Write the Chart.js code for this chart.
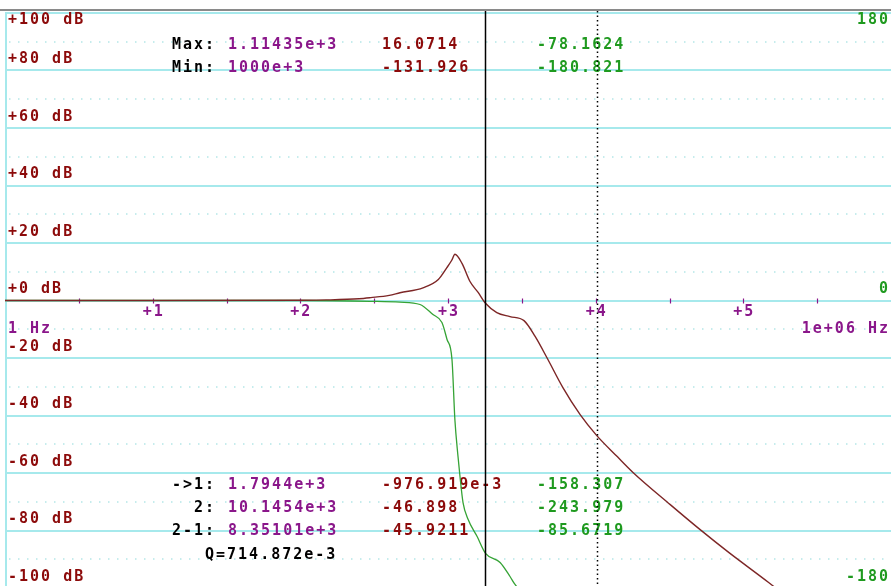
<!DOCTYPE html>
<html>
<head>
<meta charset="utf-8">
<script src="https://cdn.jsdelivr.net/npm/chart.js@4"></script>
<style>
  html, body { margin: 0; padding: 0; background: #fff; overflow: hidden; }
  #wrap { width: 891px; height: 600px; }
</style>
</head>
<body>
<div id="wrap"><canvas id="bode" width="891" height="600"></canvas></div>
<script>
// magnitude curve (Hz, dB)
const magFreq = [1, 10, 100, 150, 250, 300, 400, 473, 677, 860, 985, 1060, 1114, 1244, 1409, 1600, 1794.4, 2140, 2630, 3270, 3890, 4690, 6000, 7850, 10145.4, 14000, 17900, 32000, 51000, 80000, 147600, 1e6]
const magDb = [0, 0, 0.1, 0.2, 0.6, 1.0, 1.8, 2.7, 4.4, 7.3, 11.5, 14, 16.07, 12.9, 6.6, 2.8, -0.98, -4.2, -5.6, -7, -12.5, -20, -30.3, -39.7, -46.9, -54.3, -59.8, -71, -79.7, -87.7, -98, -131.9]

// phase curve (Hz, degrees)
const phaseFreq = [1, 100, 300, 473, 646, 791, 910, 985, 1064, 1114, 1169, 1205, 1264, 1367, 1575, 1794.4, 2253, 2630, 2843, 3300, 5000, 10145.4]
const phaseDeg = [0, 0, -0.5, -1, -2.5, -8.8, -13.8, -24.4, -36.9, -75, -97.7, -110, -126.5, -137, -147.8, -158.3, -164, -172.8, -177.8, -185, -210, -244]

const dbTicks = [100, 80, 60, 40, 20, 0, -20, -40, -60, -80, -100]
const dbMinor = [90, 70, 50, 30, 10, -10, -30, -50, -70, -90]
const decades = [1, 2, 3, 4, 5]
const phaseTicks = [180, 0, -180]
const cursorFreq = [1794.4, 10145.4]

// readouts: label, frequency, magnitude, phase
const maxRow = ['Max:', '1.11435e+3', '16.0714', '-78.1624']
const minRow = ['Min:', '1000e+3', '-131.926', '-180.821']
const cur1Row = ['->1:', '1.7944e+3', '-976.919e-3', '-158.307']
const cur2Row = ['2:', '10.1454e+3', '-46.898', '-243.979']
const diffRow = ['2-1:', '8.35101e+3', '-45.9211', '-85.6719']
const qText = 'Q=714.872e-3'

const RED = '#8c0a0a'
const PURPLE = '#8a168a'
const GREEN = '#1f9a1f'
const CYAN = '#a6e9ec'
const FONT = 'bold 15px "DejaVu Sans Mono"'

const txt = (ctx, s, x, y, color, align) => {
  ctx.fillStyle = color
  ctx.textAlign = align || 'left'
  ctx.fillText(s, x, y)
}

const bodePlot = {
  id: 'bodePlot',
  beforeDatasetsDraw(chart) {
    const ctx = chart.ctx
    const x = chart.scales.x
    const y = chart.scales.y
    const y2 = chart.scales.y2
    const area = chart.chartArea
    ctx.save()

    // dotted minor lines
    ctx.strokeStyle = '#b4e6e8'
    ctx.lineWidth = 1.5
    ctx.setLineDash([1.5, 7.5])
    dbMinor.forEach(v => {
      const py = Math.round(y.getPixelForValue(v))
      ctx.beginPath()
      ctx.moveTo(area.left + 4, py)
      ctx.lineTo(area.right, py)
      ctx.stroke()
    })

    // solid lines
    ctx.setLineDash([])
    ctx.strokeStyle = CYAN
    ctx.lineWidth = 2
    dbTicks.forEach(v => {
      const py = Math.round(y.getPixelForValue(v))
      ctx.beginPath()
      ctx.moveTo(area.left, py)
      ctx.lineTo(area.right, py)
      ctx.stroke()
    })
    ctx.beginPath()
    ctx.moveTo(area.left + 1, area.top)
    ctx.lineTo(area.left + 1, area.bottom)
    ctx.stroke()

    // top frame
    ctx.strokeStyle = '#8a8a8a'
    ctx.beginPath()
    ctx.moveTo(0, area.top - 3)
    ctx.lineTo(chart.width, area.top - 3)
    ctx.stroke()

    // decade ticks on the 0 dB line
    const y0 = y.getPixelForValue(0)
    ctx.strokeStyle = PURPLE
    ctx.lineWidth = 1.2
    for (let d = 0.5; d < 6; d += 0.5) {
      const px = Math.round(x.getPixelForValue(Math.pow(10, d))) + 0.5
      ctx.beginPath()
      ctx.moveTo(px, y0 - 2)
      ctx.lineTo(px, y0 + 3)
      ctx.stroke()
    }

    ctx.font = FONT
    ctx.letterSpacing = '2px'
    ctx.textBaseline = 'middle'

    // dB labels
    dbTicks.forEach(v => {
      const py = y.getPixelForValue(v)
      const s = (v >= 0 ? '+' : '') + v + ' dB'
      txt(ctx, s, 8, v === 100 ? py + 7 : py - 11, RED)
    })

    // phase labels
    phaseTicks.forEach(v => {
      const py = y2.getPixelForValue(v)
      txt(ctx, String(v), 890, v === 180 ? py + 7 : py - 11, GREEN, 'right')
    })

    // decade labels
    decades.forEach(d => {
      const px = x.getPixelForValue(Math.pow(10, d))
      txt(ctx, '+' + d, px + 1, y0 + 12, PURPLE, 'center')
    })
    txt(ctx, '1 Hz', 8, y0 + 29, PURPLE)
    txt(ctx, '1e+06 Hz', 890, y0 + 29, PURPLE, 'right')

    // readouts
    const row = (r, py) => {
      txt(ctx, r[0], 216, py, '#000', 'right')
      txt(ctx, r[1], 228, py, PURPLE)
      txt(ctx, r[2], 382, py, RED)
      txt(ctx, r[3], 537, py, GREEN)
    }
    row(maxRow, 45)
    row(minRow, 68)
    row(cur1Row, 485)
    row(cur2Row, 508)
    row(diffRow, 531)
    txt(ctx, qText, 205, 555, '#000')

    ctx.restore()
  },
  afterDatasetsDraw(chart) {
    const ctx = chart.ctx
    const x = chart.scales.x
    const area = chart.chartArea
    ctx.save()
    ctx.strokeStyle = '#000'
    cursorFreq.forEach((f, i) => {
      const px = Math.round(x.getPixelForValue(f)) + 0.5
      ctx.lineWidth = i === 0 ? 1.5 : 1.5
      ctx.setLineDash(i === 0 ? [] : [1.5, 3])
      ctx.beginPath()
      ctx.moveTo(px, area.top - 2)
      ctx.lineTo(px, chart.height)
      ctx.stroke()
    })
    ctx.restore()
  }
}

const magPoints = magFreq.map((f, i) => ({ x: f, y: magDb[i] }))
const phasePoints = phaseFreq.map((f, i) => ({ x: f, y: phaseDeg[i] }))

new Chart(document.getElementById('bode'), {
  type: 'line',
  data: {
    datasets: [
      {
        label: 'Magnitude',
        data: magPoints,
        borderColor: '#7d2626',
        borderWidth: 1.4,
        pointRadius: 0,
        cubicInterpolationMode: 'monotone',
        yAxisID: 'y',
        order: 1
      },
      {
        label: 'Phase',
        data: phasePoints,
        borderColor: '#35a335',
        borderWidth: 1.3,
        pointRadius: 0,
        cubicInterpolationMode: 'monotone',
        yAxisID: 'y2',
        order: 2
      }
    ]
  },
  options: {
    responsive: false,
    animation: false,
    devicePixelRatio: 1,
    layout: { padding: { left: 5, right: 0, top: 13, bottom: 12 } },
    plugins: { legend: { display: false }, tooltip: { enabled: false } },
    scales: {
      x: { type: 'logarithmic', min: 1, max: 1e6, display: false },
      y: { type: 'linear', min: -100, max: 100, display: false },
      y2: { type: 'linear', min: -180, max: 180, display: false }
    }
  },
  plugins: [bodePlot]
})
</script>
</body>
</html>
